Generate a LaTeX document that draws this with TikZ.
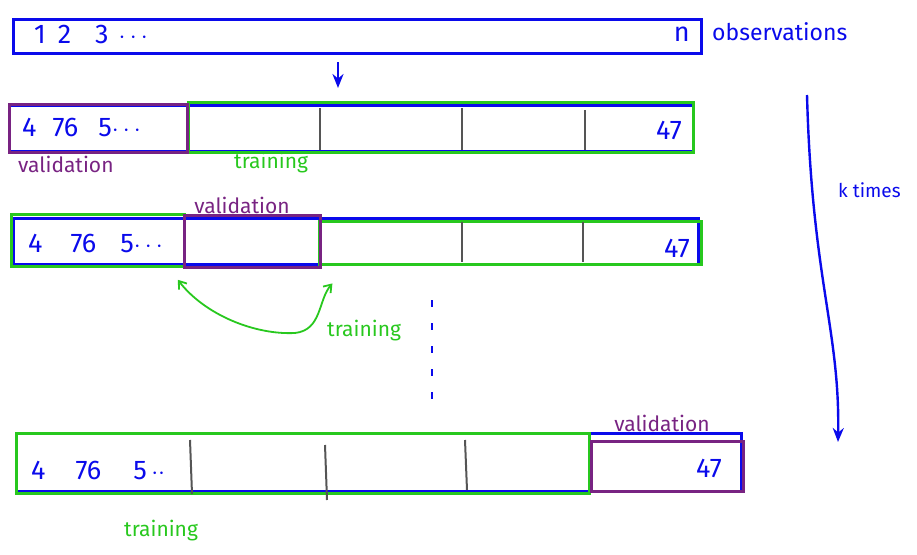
\documentclass[tikz,border=0pt]{standalone}
\usepackage{fontspec}
\setmainfont{Fira Sans}
\usetikzlibrary{arrows.meta,calc}
\definecolor{inkblue}{RGB}{10,10,235}
\definecolor{inkgreen}{RGB}{40,200,30}
\definecolor{inkpurple}{RGB}{120,35,130}
\definecolor{inkgray}{RGB}{85,85,85}
\begin{document}
\begin{tikzpicture}[x=1pt,y=-1pt,
  bar/.style={draw=inkblue, line width=2.6pt, rectangle, inner sep=0pt, anchor=north west},
  trainbox/.style={draw=inkgreen, line width=2.8pt, rectangle, inner sep=0pt, anchor=north west},
  valbox/.style={draw=inkpurple, line width=3.4pt, rectangle, inner sep=0pt, anchor=north west},
  divider/.style={draw=inkgray, line width=2pt},
  numtxt/.style={text=inkblue, font=\fontsize{27}{30}\selectfont, inner sep=0pt},
  bluelbl/.style={text=inkblue, font=\fontsize{23}{26}\selectfont, inner sep=0pt},
  ktxt/.style={text=inkblue, font=\fontsize{19}{22}\selectfont, inner sep=0pt},
  vallbl/.style={text=inkpurple, font=\fontsize{21}{24}\selectfont, inner sep=0pt},
  trainlbl/.style={text=inkgreen, font=\fontsize{21}{24}\selectfont, inner sep=0pt},
  bluearrow/.style={draw=inkblue, line width=2.4pt, -{Stealth[length=14pt,width=11pt]}},
  greenarrow/.style={draw=inkgreen, line width=1.8pt, {Straight Barb[length=7pt,width=10pt]}-{Straight Barb[length=7pt,width=10pt]}},
  dotline/.style={draw=inkblue, line width=1.8pt, dash pattern=on 7pt off 16pt}
]
\useasboundingbox (0,0) rectangle (917,554);

% ---------- top: observations ----------
\node[bar, minimum width=688pt, minimum height=34pt] (obs) at (12,18) {};
\node[numtxt, anchor=west] (obsA) at (34,34) {1\hspace{12pt}2\hspace{24pt}3\hspace{10pt}$\cdots$};
\node[numtxt, anchor=east] (obsN) at (690,34) {n};
\node[bluelbl, anchor=west] (obsL) at (712,32) {observations};

\coordinate (split1) at (338,62);
\coordinate (split2) at (338,88);
\draw[bluearrow] (split1) -- (split2);

% ---------- row 1 ----------
\node[bar, minimum width=684pt, minimum height=46pt] (bar1) at (8,104) {};
\node[trainbox, minimum width=505pt, minimum height=50pt] (tr1) at (187,101) {};
\node[valbox, minimum width=178pt, minimum height=48pt] (val1) at (8,103) {};
\draw[divider] (320,108) -- (320,150);
\draw[divider] (462,108) -- (462,150);
\draw[divider] (585,110) -- (585,150);
\node[numtxt, anchor=west] (r1a) at (22,127) {4\hspace{16pt}76\hspace{20pt}5$\cdots$};
\node[numtxt, anchor=east] (r1b) at (682,130) {47};
\node[vallbl, anchor=north west] (r1v) at (18,156) {validation};
\node[trainlbl, anchor=north west] (r1t) at (234,152) {training};

% ---------- k times arrow ----------
\coordinate (k1) at (807,95);
\coordinate (k2) at (838,442);
\draw[bluearrow] (k1) .. controls (812,280) and (840,330) .. (k2);
\node[ktxt, anchor=west] (ktimes) at (838,190) {k times};

% ---------- row 2 ----------
\node[bar, minimum width=685pt, minimum height=46pt] (bar2) at (12,217) {};
\node[trainbox, minimum width=173pt, minimum height=52pt] (tr2a) at (10,213) {};
\node[trainbox, minimum width=382pt, minimum height=43pt] (tr2b) at (318,220) {};
\node[valbox, minimum width=136pt, minimum height=52pt] (val2) at (183,214) {};
\draw[divider] (462,222) -- (462,262);
\draw[divider] (583,222) -- (583,262);
\node[numtxt, anchor=west] (r2a) at (28,243) {4\hspace{28pt}76\hspace{24pt}5$\cdots$};
\node[numtxt, anchor=east] (r2b) at (690,248) {47};
\node[vallbl, anchor=south] (r2v) at (242,214) {validation};
\node[trainlbl, anchor=north west] (r2t) at (327,320) {training};
\coordinate (c2L) at ($(tr2a.south east)+(-8,12)$);
\coordinate (c2R) at ($(val2.south east)+(10,14)$);
\draw[greenarrow] (c2L) .. controls (205,315) and (255,335) .. (295,333) .. controls (322,330) and (318,300) .. (c2R);

% ---------- vertical dots ----------
\coordinate (d1) at (432,300);
\coordinate (d2) at (432,402);
\draw[dotline] (d1) -- (d2);

% ---------- row 3 ----------
\node[bar, minimum width=725pt, minimum height=58pt] (bar3) at (15,432) {};
\node[trainbox, minimum width=573pt, minimum height=60pt] (tr3) at (15,432) {};
\node[valbox, minimum width=152pt, minimum height=50pt] (val3) at (590,440) {};
\draw[divider] (190,440) -- (192,494);
\draw[divider] (325,445) -- (327,500);
\draw[divider] (465,440) -- (467,490);
\node[numtxt, anchor=west] (r3a) at (31,470) {4\hspace{30pt}76\hspace{32pt}5\,$\cdot\cdot$};
\node[numtxt, anchor=east] (r3b) at (722,468) {47};
\node[vallbl, anchor=south] (r3v) at (662,432) {validation};
\node[trainlbl, anchor=north west] (r3t) at (124,520) {training};
\end{tikzpicture}
\end{document}
